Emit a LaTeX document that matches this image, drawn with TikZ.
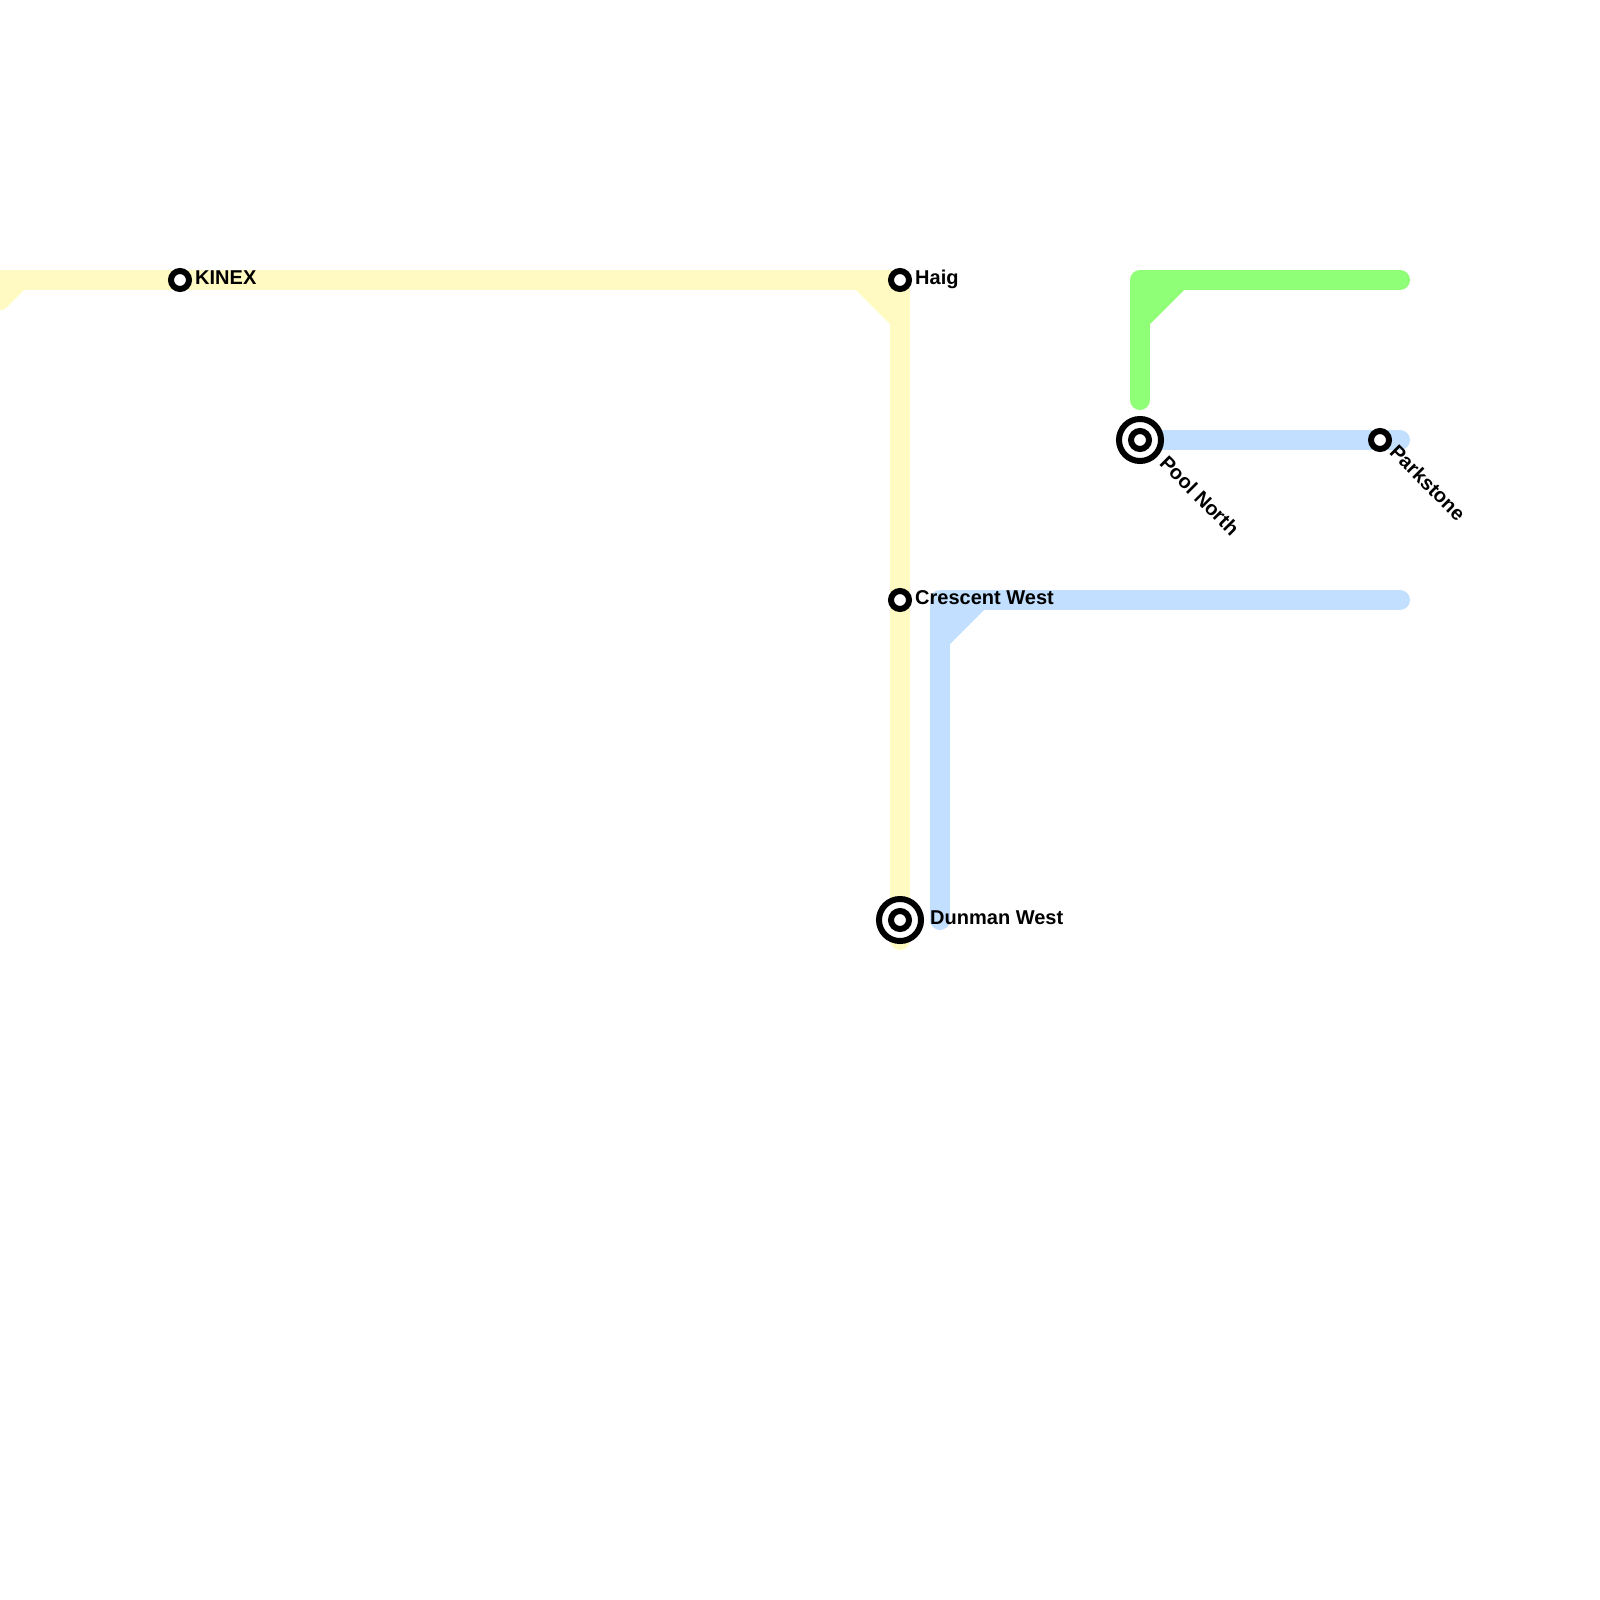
\documentclass[tikz,border=0pt]{standalone}
\usepackage{fontspec}
\setmainfont{Liberation Sans}
\definecolor{lineyellow}{HTML}{FFF9C2}
\definecolor{lineblue}{HTML}{C2DFFF}
\definecolor{linegreen}{HTML}{8FFF78}
\tikzset{
  metroline/.style={line width=0.2cm, line cap=round, line join=round},
  bendline/.style={line width=0.2cm},
  halt/.style={circle, draw=black, fill=white, line width=0.06cm, minimum size=0.18cm, inner sep=0pt},
  interchange/.style={circle, draw=black, fill=white, line width=0.06cm, minimum size=0.42cm, inner sep=0pt},
  haltlabel/.style={anchor=base west, inner sep=0pt, font=\fontsize{5.69}{7}\selectfont\bfseries},
}
\begin{document}
\begin{tikzpicture}[x=0.01cm, y=-0.01cm]
  \useasboundingbox (0,0) rectangle (1600,1600);

  % Station positions
  \coordinate (kinex) at (180,280);
  \coordinate (haig) at (900,280);
  \coordinate (crescent) at (900,600);
  \coordinate (dunman) at (900,920);
  \coordinate (pool) at (1140,440);
  \coordinate (parkstone) at (1380,440);

  % Free line ends and bends
  \coordinate (yellowfoot) at (900,940);
  \coordinate (yellowend) at (0,300);
  \coordinate (yellowbend) at (20,280);
  \coordinate (yellowleft) at (0,280);
  \coordinate (yellowcut) at (860,280);
  \coordinate (yellowdown) at (900,320);
  \coordinate (blueright) at (1400,600);
  \coordinate (bluecorner) at (940,600);
  \coordinate (bluecut) at (980,600);
  \coordinate (bluedown) at (940,640);
  \coordinate (bluefoot) at (940,920);
  \coordinate (poolright) at (1400,440);
  \coordinate (greenright) at (1400,280);
  \coordinate (greencorner) at (1140,280);
  \coordinate (greencut) at (1180,280);
  \coordinate (greendown) at (1140,320);
  \coordinate (greenfoot) at (1140,400);

  % Lines
  \draw[metroline, lineyellow] (yellowfoot) -- (crescent) -- (haig) -- (yellowleft);
  \draw[metroline, lineyellow] (yellowbend) -- (yellowend);
  \draw[metroline, lineblue] (blueright) -- (bluecorner) -- (bluefoot);
  \draw[metroline, lineblue] (pool) -- (poolright);
  \draw[metroline, linegreen] (greenright) -- (greencorner) -- (greenfoot);

  % Filled corners
  \foreach \col/\corner/\cut/\down in {lineyellow/haig/yellowcut/yellowdown, lineblue/bluecorner/bluecut/bluedown, linegreen/greencorner/greencut/greendown} {
    \fill[\col] (\corner) -- (\cut) -- (\down) -- cycle;
    \draw[bendline, \col] (\cut) -- (\down);
  }

  % Stations
  \foreach \stn in {kinex, haig, crescent, parkstone} {
    \node[halt] (\stn dot) at (\stn) {};
  }
  \foreach \stn in {dunman, pool} {
    \node[interchange] (\stn ring) at (\stn) {};
    \node[halt] (\stn dot) at (\stn) {};
  }

  % Station names
  \node[haltlabel, shift={(14.5,4.6)}] (kinexname) at (kinex) {KINEX};
  \node[haltlabel, shift={(14.5,4.6)}] (haigname) at (haig) {Haig};
  \node[haltlabel, shift={(14.5,4.6)}] (crescentname) at (crescent) {Crescent West};
  \node[haltlabel, shift={(29.5,4.6)}] (dunmanname) at (dunman) {Dunman West};
  \node[haltlabel, shift={(18,24)}, rotate=-45] (poolname) at (pool) {Pool North};
  \node[haltlabel, shift={(8,13)}, rotate=-45] (parkstonename) at (parkstone) {Parkstone};
\end{tikzpicture}
\end{document}
